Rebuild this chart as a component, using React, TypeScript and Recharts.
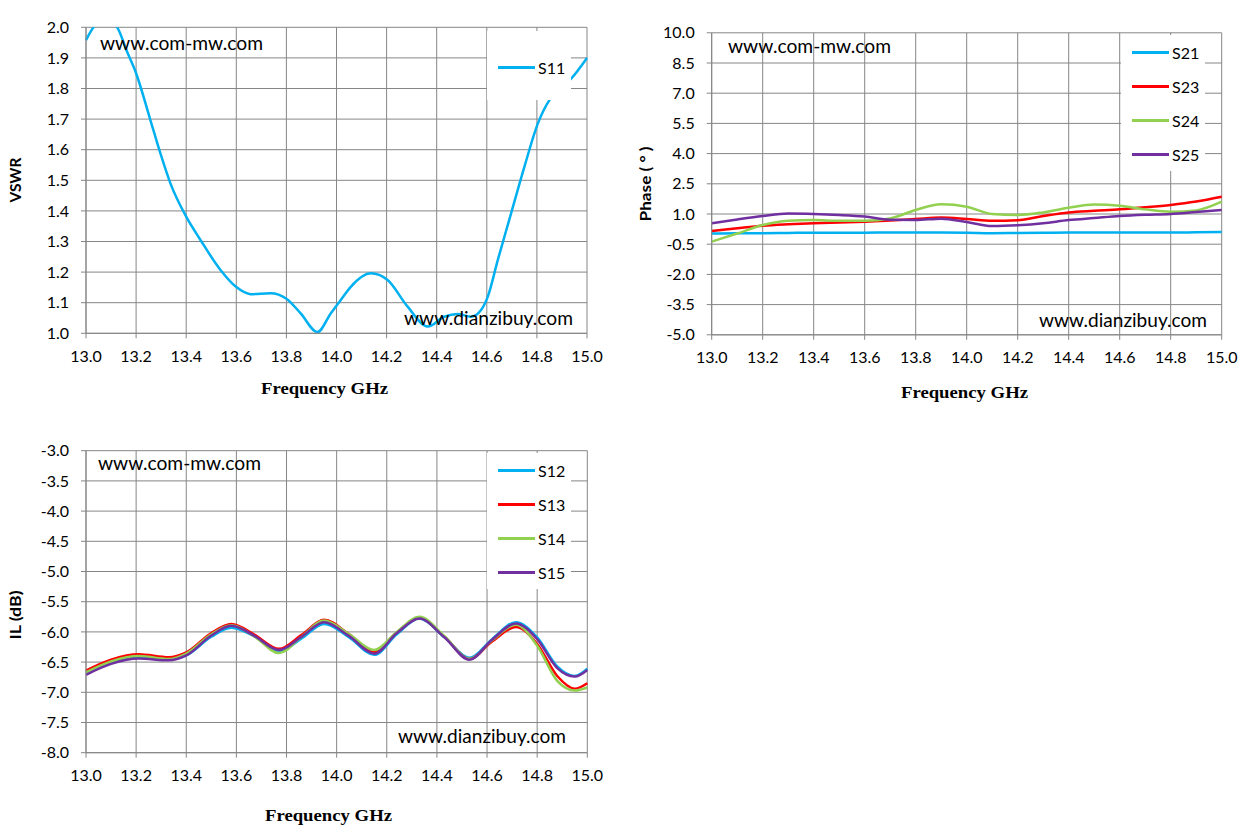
import React from 'react';
import { CartesianGrid, Legend, Line, LineChart, XAxis, YAxis } from 'recharts';

// frequency axis shared by all three panels (GHz)
const freqTicks = [13.0, 13.2, 13.4, 13.6, 13.8, 14.0, 14.2, 14.4, 14.6, 14.8, 15.0];
const vswrTicks = [1.0, 1.1, 1.2, 1.3, 1.4, 1.5, 1.6, 1.7, 1.8, 1.9, 2.0];
const phaseTicks = [-5.0, -3.5, -2.0, -0.5, 1.0, 2.5, 4.0, 5.5, 7.0, 8.5, 10.0];
const ilTicks = [-8.0, -7.5, -7.0, -6.5, -6.0, -5.5, -5.0, -4.5, -4.0, -3.5, -3.0];

// VSWR panel
const vswrFreq = [
  13.0, 13.03, 13.077, 13.124, 13.164, 13.2, 13.257, 13.297, 13.337, 13.4, 13.457, 13.537, 13.6, 13.657, 13.737,
  13.8, 13.857, 13.924, 13.977, 14.017, 14.057, 14.137, 14.204, 14.284, 14.364, 14.43, 14.484, 14.537, 14.577,
  14.604, 14.644, 14.697, 14.75, 14.804, 14.85, 14.9, 14.94, 15.0
];
const s11 = [
  1.958, 2.0, 2.025, 2.0, 1.92, 1.85, 1.697, 1.588, 1.49, 1.381, 1.305, 1.207, 1.151, 1.128, 1.131,
  1.113, 1.065, 1.004, 1.065, 1.109, 1.152, 1.196, 1.174, 1.087, 1.022, 1.054, 1.063, 1.054, 1.076,
  1.12, 1.24, 1.392, 1.544, 1.686, 1.762, 1.8, 1.835, 1.9
];

// Phase panel
const phaseFreq = [
  13.0, 13.1, 13.2, 13.3, 13.4, 13.5, 13.6, 13.7, 13.8, 13.9, 14.0, 14.1, 14.2, 14.3, 14.4, 14.5, 14.6, 14.7, 14.8, 14.9, 15.0
];
const s21 = [0.03, 0.05, 0.05, 0.06, 0.07, 0.07, 0.07, 0.08, 0.08, 0.08, 0.07, 0.05, 0.06, 0.07, 0.08, 0.08, 0.08, 0.08, 0.08, 0.09, 0.1];
const s23 = [0.15, 0.29, 0.42, 0.49, 0.54, 0.58, 0.62, 0.68, 0.75, 0.82, 0.75, 0.66, 0.69, 0.9, 1.08, 1.16, 1.23, 1.33, 1.45, 1.62, 1.86];
const s24 = [-0.37, 0.03, 0.45, 0.66, 0.7, 0.66, 0.66, 0.78, 1.2, 1.48, 1.36, 1.0, 0.95, 1.08, 1.31, 1.47, 1.41, 1.23, 1.11, 1.18, 1.61];
const s25 = [0.54, 0.73, 0.9, 1.02, 1.0, 0.95, 0.87, 0.71, 0.7, 0.77, 0.6, 0.4, 0.44, 0.54, 0.7, 0.8, 0.9, 0.96, 1.0, 1.1, 1.2];

// Insertion loss panel
const ilFreq = [
  13.0, 13.1, 13.21, 13.33, 13.4, 13.5, 13.58, 13.67, 13.77, 13.86, 13.95, 14.05, 14.15, 14.24, 14.33, 14.43,
  14.53, 14.62, 14.715, 14.8, 14.88, 14.95, 15.0
];
const s12 = [-6.67, -6.5, -6.42, -6.46, -6.39, -6.08, -5.93, -6.07, -6.32, -6.11, -5.87, -6.09, -6.38, -6.04, -5.78, -6.09, -6.43, -6.12, -5.84, -6.09, -6.57, -6.73, -6.61];
const s13 = [-6.64, -6.46, -6.37, -6.42, -6.34, -6.02, -5.87, -6.04, -6.28, -6.05, -5.8, -6.04, -6.33, -6.01, -5.77, -6.08, -6.45, -6.16, -5.92, -6.2, -6.73, -6.94, -6.85];
const s14 = [-6.67, -6.49, -6.4, -6.45, -6.36, -6.04, -5.89, -6.07, -6.35, -6.08, -5.81, -6.04, -6.3, -6.0, -5.75, -6.07, -6.45, -6.14, -5.88, -6.23, -6.81, -6.97, -6.92];
const s15 = [-6.71, -6.53, -6.44, -6.47, -6.39, -6.06, -5.9, -6.06, -6.3, -6.08, -5.84, -6.07, -6.36, -6.02, -5.78, -6.09, -6.46, -6.13, -5.86, -6.12, -6.6, -6.74, -6.63];

const BLUE = '#00B0F0';
const RED = '#FF0000';
const GREEN = '#92D050';
const PURPLE = '#7030A0';
const GRID = '#868686';
const FONT = "Lato, 'Open Sans', sans-serif";

const vswrData = vswrFreq.map((f, i) => ({ f, S11: s11[i] }));
const phaseData = phaseFreq.map((f, i) => ({ f, S21: s21[i], S23: s23[i], S24: s24[i], S25: s25[i] }));
const ilData = ilFreq.map((f, i) => ({ f, S12: s12[i], S13: s13[i], S14: s14[i], S15: s15[i] }));

type Series = { key: string; color: string };

type PanelProps = {
  left: number;
  top: number;
  width: number;
  height: number;
  plot: { x0: number; x1: number; y0: number; y1: number };
  data: Record<string, number>[];
  series: Series[];
  yTicks: number[];
  legend: { x: number; y: number; h: number; pad: number };
  clip?: boolean;
};

function LegendBox({ series, pad }: { series: Series[]; pad: number }) {
  return (
    <div style={{ paddingTop: pad, fontFamily: FONT, fontSize: 16, color: '#000' }}>
      {series.map((s) => (
        <div key={s.key} style={{ height: 34, display: 'flex', alignItems: 'center' }}>
          <div style={{ marginLeft: 11, width: 37, height: 3, background: s.color }} />
          <span style={{ marginLeft: 3 }}>{s.key}</span>
        </div>
      ))}
    </div>
  );
}

function Panel({ left, top, width, height, plot, data, series, yTicks, legend, clip }: PanelProps) {
  const xHeight = 40;
  const margin = {
    top: plot.y0,
    right: width - plot.x1,
    left: 0,
    bottom: height - plot.y1 - xHeight
  };
  const tick = { fill: '#000', fontSize: 16, fontFamily: FONT };
  return (
    <div style={{ position: 'absolute', left, top }}>
      <LineChart width={width} height={height} data={data} margin={margin}>
        <CartesianGrid stroke={GRID} strokeWidth={1} />
        <XAxis
          dataKey="f"
          type="number"
          domain={[13, 15]}
          ticks={freqTicks}
          interval={0}
          height={xHeight}
          tickFormatter={(v: number) => v.toFixed(1)}
          tick={tick}
          tickSize={5}
          tickMargin={12}
          axisLine={{ stroke: GRID }}
          tickLine={{ stroke: GRID }}
        />
        <YAxis
          type="number"
          domain={[yTicks[0], yTicks[yTicks.length - 1]]}
          ticks={yTicks}
          interval={0}
          width={plot.x0}
          allowDataOverflow={!!clip}
          tickFormatter={(v: number) => v.toFixed(1)}
          tick={tick}
          tickSize={5}
          tickMargin={12}
          axisLine={{ stroke: GRID }}
          tickLine={{ stroke: GRID }}
        />
        {series.map((s) => (
          <Line
            key={s.key}
            type="monotone"
            dataKey={s.key}
            stroke={s.color}
            strokeWidth={2.5}
            dot={false}
            activeDot={false}
            isAnimationActive={false}
          />
        ))}
        <Legend
          layout="horizontal"
          align="center"
          verticalAlign="middle"
          wrapperStyle={{ left: legend.x, top: legend.y, width: 84, height: legend.h, background: '#fff' }}
          content={() => <LegendBox series={series} pad={legend.pad} />}
        />
      </LineChart>
    </div>
  );
}

function Txt({ x, y, len, size, children, weight, family, rotate }: any) {
  return (
    <text
      x={x}
      y={y}
      fontSize={size}
      fontWeight={weight || 400}
      fontFamily={family || FONT}
      textLength={len}
      lengthAdjust="spacingAndGlyphs"
      textAnchor={rotate ? 'middle' : 'start'}
      transform={rotate ? `rotate(-90 ${x} ${y})` : undefined}
      fill="#000"
    >
      {children}
    </text>
  );
}

export default function App() {
  const serif = "'Liberation Serif', 'DejaVu Serif', serif";
  return (
    <div style={{ position: 'absolute', left: 0, top: 0, width: 1253, height: 837, background: '#fff' }}>
      <Panel
        left={0}
        top={0}
        width={620}
        height={410}
        plot={{ x0: 86, x1: 587, y0: 27.3, y1: 333.3 }}
        data={vswrData}
        series={[{ key: 'S11', color: BLUE }]}
        yTicks={vswrTicks}
        legend={{ x: 487, y: 31, h: 69, pad: 19 }}
        clip
      />
      <Panel
        left={630}
        top={0}
        width={623}
        height={420}
        plot={{ x0: 81.7, x1: 591.7, y0: 32.8, y1: 334.8 }}
        data={phaseData}
        series={[
          { key: 'S21', color: BLUE },
          { key: 'S23', color: RED },
          { key: 'S24', color: GREEN },
          { key: 'S25', color: PURPLE }
        ]}
        yTicks={phaseTicks}
        legend={{ x: 491, y: 35, h: 136, pad: 0 }}
      />
      <Panel
        left={0}
        top={420}
        width={620}
        height={417}
        plot={{ x0: 86, x1: 587.3, y0: 30.7, y1: 332.7 }}
        data={ilData}
        series={[
          { key: 'S12', color: BLUE },
          { key: 'S13', color: RED },
          { key: 'S14', color: GREEN },
          { key: 'S15', color: PURPLE }
        ]}
        yTicks={ilTicks}
        legend={{ x: 487, y: 33, h: 136, pad: 0 }}
      />
      <svg width={1253} height={837} style={{ position: 'absolute', left: 0, top: 0, pointerEvents: 'none' }}>
        <Txt x={100} y={49.5} len={163} size={19}>www.com-mw.com</Txt>
        <Txt x={404} y={325} len={169} size={19}>www.dianzibuy.com</Txt>
        <Txt x={728} y={52.5} len={163} size={19}>www.com-mw.com</Txt>
        <Txt x={1039} y={327} len={168} size={19}>www.dianzibuy.com</Txt>
        <Txt x={98} y={470} len={163} size={19}>www.com-mw.com</Txt>
        <Txt x={398} y={742.5} len={168} size={19}>www.dianzibuy.com</Txt>

        <Txt x={20.5} y={180} len={45} size={15} weight={700} rotate>VSWR</Txt>
        <Txt x={650.5} y={184} len={75} size={15} weight={700} rotate>Phase ( ° )</Txt>
        <Txt x={20.5} y={615} len={49} size={15} weight={700} rotate>IL (dB)</Txt>

        <Txt x={261} y={394} len={127} size={16} weight={700} family={serif}>Frequency GHz</Txt>
        <Txt x={901} y={398} len={127} size={16} weight={700} family={serif}>Frequency GHz</Txt>
        <Txt x={265} y={821} len={127} size={16} weight={700} family={serif}>Frequency GHz</Txt>
      </svg>
    </div>
  );
}
